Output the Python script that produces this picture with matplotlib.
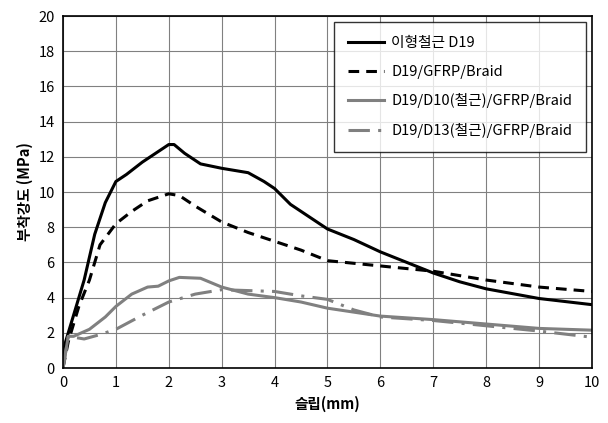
import numpy as np
import matplotlib.pyplot as plt

plt.rcParams['font.family'] = ['Noto Sans CJK KR', 'DejaVu Sans']

# 이형철근 D19
x_steel = [0, 0.05, 0.2, 0.4, 0.6, 0.8, 1.0, 1.2, 1.5, 1.8, 2.0, 2.1, 2.3, 2.6, 3.0, 3.5, 3.8, 4.0, 4.3, 4.5, 5.0, 5.5, 6.0, 6.5, 7.0, 7.5, 8.0, 9.0, 10.0]
y_steel = [0.7, 1.5, 3.0, 5.0, 7.6, 9.4, 10.6, 11.0, 11.7, 12.3, 12.7, 12.7, 12.2, 11.6, 11.35, 11.1, 10.6, 10.2, 9.3, 8.9, 7.9, 7.3, 6.6, 6.0, 5.4, 4.9, 4.5, 3.95, 3.6]

# D19/GFRP/Braid
x_gfrp = [0, 0.1, 0.3, 0.5, 0.7, 1.0, 1.3, 1.6, 2.0, 2.2, 2.5, 3.0, 3.5, 4.0, 4.5, 5.0, 6.0, 7.0, 8.0, 9.0, 10.0]
y_gfrp = [0, 1.5, 3.5, 5.0, 7.0, 8.2, 8.9, 9.5, 9.9, 9.8, 9.2, 8.3, 7.7, 7.2, 6.7, 6.1, 5.8, 5.5, 5.0, 4.6, 4.35]

# D19/D10(철근)/GFRP/Braid
x_d10 = [0, 0.1, 0.2, 0.5, 0.8, 1.0, 1.3, 1.6, 1.8, 2.0, 2.2, 2.6, 3.0, 3.5, 4.0, 4.5, 5.0, 6.0, 7.0, 8.0, 9.0, 10.0]
y_d10 = [0, 1.8, 1.8, 2.2, 2.9, 3.5, 4.2, 4.6, 4.65, 4.95, 5.15, 5.1, 4.6, 4.2, 4.0, 3.75, 3.4, 2.95, 2.75, 2.5, 2.25, 2.15]

# D19/D13(철근)/GFRP/Braid
x_d13 = [0, 0.1, 0.4, 0.7, 1.0, 1.5, 2.0, 2.5, 3.0, 4.0, 4.5, 5.0, 5.5, 6.0, 7.0, 8.0, 9.0, 10.0]
y_d13 = [0, 1.8, 1.65, 1.9, 2.2, 3.0, 3.75, 4.2, 4.45, 4.35, 4.1, 3.9, 3.3, 2.9, 2.7, 2.4, 2.1, 1.75]

labels = ['이형철근 D19', 'D19/GFRP/Braid', 'D19/D10(철근)/GFRP/Braid', 'D19/D13(철근)/GFRP/Braid']

fig = plt.figure(figsize=(6.08, 4.23), dpi=100)
ax = fig.add_axes([0.1036, 0.130, 0.870, 0.832])

gray = '#808080'
ax.plot(x_steel, y_steel, color='black', lw=2.2, label=labels[0])
ax.plot(x_gfrp, y_gfrp, color='black', lw=2.2, dashes=(3.5, 2.3), label=labels[1])
ax.plot(x_d10, y_d10, color=gray, lw=2.2, label=labels[2])
ax.plot(x_d13, y_d13, color=gray, lw=2.2, dashes=(7, 2.7, 1, 2.7), label=labels[3])

ax.set_xlim(0, 10)
ax.set_ylim(0, 20)
ax.set_xticks(np.arange(0, 11, 1))
ax.set_yticks(np.arange(0, 21, 2))
ax.grid(True, color='#808080', lw=0.8)
ax.set_axisbelow(True)
ax.tick_params(length=0, labelsize=10.5, pad=6)
for s in ax.spines.values():
    s.set_linewidth(1.2)

ax.set_xlabel('슬립(mm)', fontsize=10.5, fontweight='bold', labelpad=4)
ax.set_ylabel('부착강도 (MPa)', fontsize=10.5, fontweight='bold', labelpad=4)

leg = ax.legend(loc='upper right', bbox_to_anchor=(0.989, 0.983), fontsize=10.6,
                handlelength=2.4, handletextpad=0.5, labelspacing=1.0,
                frameon=True, fancybox=False, edgecolor='black', borderpad=0.95,
                borderaxespad=0)
leg.get_frame().set_linewidth(1.0)

fig.savefig('out.png', dpi=100)
